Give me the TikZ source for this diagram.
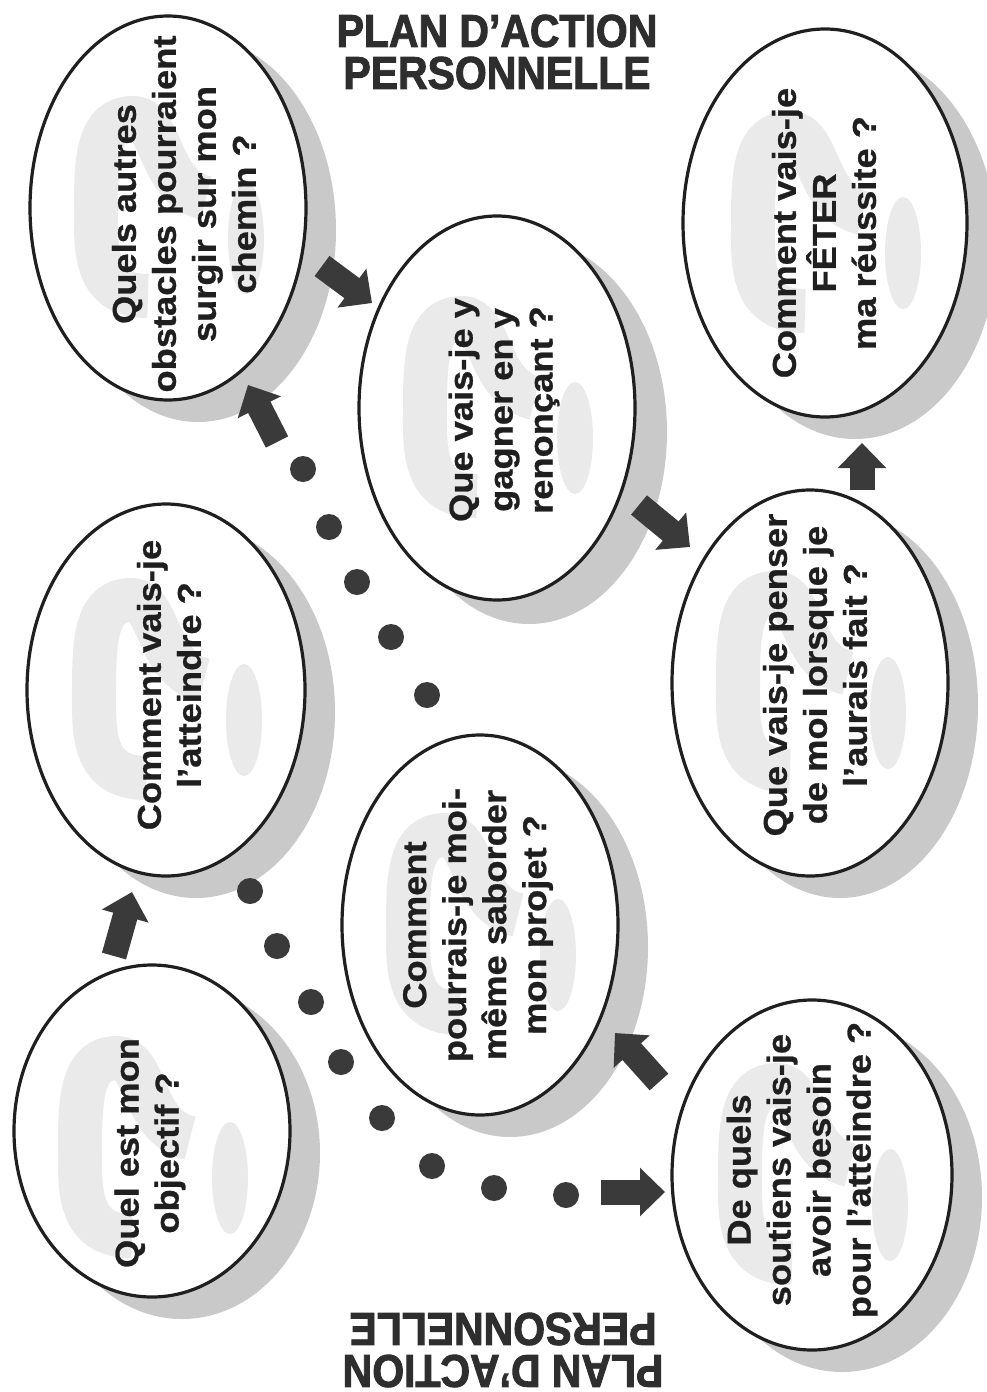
\documentclass[tikz,border=0pt]{standalone}
\usepackage{fontspec}
\setmainfont{Liberation Sans}
\newfontfamily\qfont[FakeStretch=1.1,FakeBold=0.8]{Liberation Sans}
\newfontfamily\tfont[FakeStretch=0.89,FakeBold=2]{Liberation Sans}
\usetikzlibrary{shapes.geometric,arrows.meta}
\definecolor{ink}{HTML}{1F1F1F}
\definecolor{arrowc}{HTML}{3A3A3A}
\definecolor{shade}{HTML}{C9C9C9}
\definecolor{wm}{HTML}{EAEAEA}
\definecolor{titlec}{HTML}{2E2E2E}
\begin{document}
\begin{tikzpicture}[x=1pt,y=1pt,
  bubble/.style={ellipse,draw=ink,line width=3.2pt,fill=white,inner sep=0pt},
  qtext/.style={rotate=90,align=center,text=ink,inner sep=0pt,font=\qfont\bfseries\fontsize{33}{40}\selectfont},
  shadowfill/.style={fill=shade},
  dotnode/.style={circle,fill=arrowc,minimum size=26pt,inner sep=0pt},
  blockarrow/.style={draw=arrowc,line width=25pt,-{Triangle[width=47pt,length=25pt]}},
  titletext/.style={align=center,text=titlec,inner sep=0pt,font=\tfont\bfseries\fontsize{46}{42}\selectfont},
  qmark/.pic={
    \begin{scope}[rotate=90]
      \draw[wm,line width=44pt,line cap=butt] (-88,20) .. controls (-88,75) and (-40,72) .. (0,72)
        .. controls (50,72) and (90,70) .. (90,35) .. controls (90,5) and (20,10) .. (10,-38);
      \fill[wm] (-30,-78) ellipse [x radius=56,y radius=18];
    \end{scope}
  }
]
\useasboundingbox[fill=white] (0,0) rectangle (986,-1392);

% shadows
\fill[shadowfill] (198,-230) ellipse [x radius=138,y radius=192];
\fill[shadowfill] (529,-432) ellipse [x radius=138,y radius=192];
\fill[shadowfill] (855,-245) ellipse [x radius=142,y radius=194];
\fill[shadowfill] (196,-712) ellipse [x radius=139,y radius=186];
\fill[shadowfill] (840,-705) ellipse [x radius=138,y radius=193];
\fill[shadowfill] (510,-947) ellipse [x radius=138,y radius=190];
\fill[shadowfill] (182,-1153) ellipse [x radius=138,y radius=166];
\fill[shadowfill] (842,-1197) ellipse [x radius=140,y radius=175];

% bubbles
\node[bubble,minimum width=276pt,minimum height=384pt] (obst) at (168,-208) {};
\node[bubble,minimum width=276pt,minimum height=384pt] (gagner) at (497,-408) {};
\node[bubble,minimum width=284pt,minimum height=388pt] (feter) at (825,-223) {};
\node[bubble,minimum width=278pt,minimum height=372pt] (atteindre) at (166,-690) {};
\node[bubble,minimum width=276pt,minimum height=386pt] (penser) at (810,-683) {};
\node[bubble,minimum width=276pt,minimum height=380pt] (saborder) at (480,-925) {};
\node[bubble,minimum width=276pt,minimum height=332pt] (objectif) at (152,-1131) {};
\node[bubble,minimum width=280pt,minimum height=350pt] (soutiens) at (812,-1175) {};

% watermarks
\pic at (obst) {qmark};
\pic at (gagner) {qmark};
\pic at (feter) {qmark};
\pic at (atteindre) {qmark};
\pic at (penser) {qmark};
\pic at (saborder) {qmark};
\pic at ([yshift=-17pt]objectif.center) {qmark};
\pic at (soutiens) {qmark};

% texts
\node[qtext] (t1) at (184,-214) {Quels autres\\obstacles pourraient\\surgir sur mon\\chemin ?};
\node[qtext] (t2) at (504,-410) {Que vais-je y\\gagner en y\\renonçant ?};
\node[qtext] (t3) at (824,-233) {Comment vais-je\\FÊTER\\ma réussite ?};
\node[qtext] (t4) at (169,-685) {Comment vais-je\\l’atteindre ?};
\node[qtext] (t5) at (815,-675) {Que vais-je penser\\de moi lorsque je\\l’aurais fait ?};
\node[qtext] (t6) at (478,-925) {Comment\\pourrais-je moi-\\même saborder\\mon projet ?};
\node[qtext] (t7) at (150,-1153) {Quel est mon\\objectif ?};
\node[qtext] (t8) at (802,-1170) {De quels\\soutiens vais-je\\avoir besoin\\pour l’atteindre ?};

% dots
\node[dotnode] (d1) at (303,-469) {};
\node[dotnode] (d2) at (329,-527) {};
\node[dotnode] (d3) at (357,-582) {};
\node[dotnode] (d4) at (391,-637) {};
\node[dotnode] (d5) at (427,-695) {};
\node[dotnode] (d6) at (250,-891) {};
\node[dotnode] (d7) at (277,-946) {};
\node[dotnode] (d8) at (311,-1002) {};
\node[dotnode] (d9) at (341,-1062) {};
\node[dotnode] (d10) at (382,-1118) {};
\node[dotnode] (d11) at (432,-1166) {};
\node[dotnode] (d12) at (494,-1188) {};
\node[dotnode] (d13) at (566,-1195) {};

% arrows
\coordinate (a1s) at (322,-266); \coordinate (a1e) at (372,-303);
\coordinate (a2s) at (639,-505); \coordinate (a2e) at (690,-547);
\coordinate (a3s) at (862,-490); \coordinate (a3e) at (862,-443);
\coordinate (a4s) at (114,-956); \coordinate (a4e) at (132,-892);
\coordinate (a5s) at (601,-1192); \coordinate (a5e) at (665,-1192);
\coordinate (a6s) at (659,-1082); \coordinate (a6e) at (615,-1033);
\coordinate (a7s) at (277,-442); \coordinate (a7e) at (248,-385);
\draw[blockarrow] (a1s) -- (a1e);
\draw[blockarrow] (a2s) -- (a2e);
\draw[blockarrow] (a3s) -- (a3e);
\draw[blockarrow] (a4s) -- (a4e);
\draw[blockarrow] (a5s) -- (a5e);
\draw[blockarrow] (a6s) -- (a6e);
\draw[blockarrow] (a7s) -- (a7e);

% titles
\node[titletext] (title) at (497,-52) {PLAN D’ACTION\\PERSONNELLE};
\node[titletext,rotate=180] (title2) at (503,-1350) {PLAN D’ACTION\\PERSONNELLE};
\end{tikzpicture}
\end{document}
